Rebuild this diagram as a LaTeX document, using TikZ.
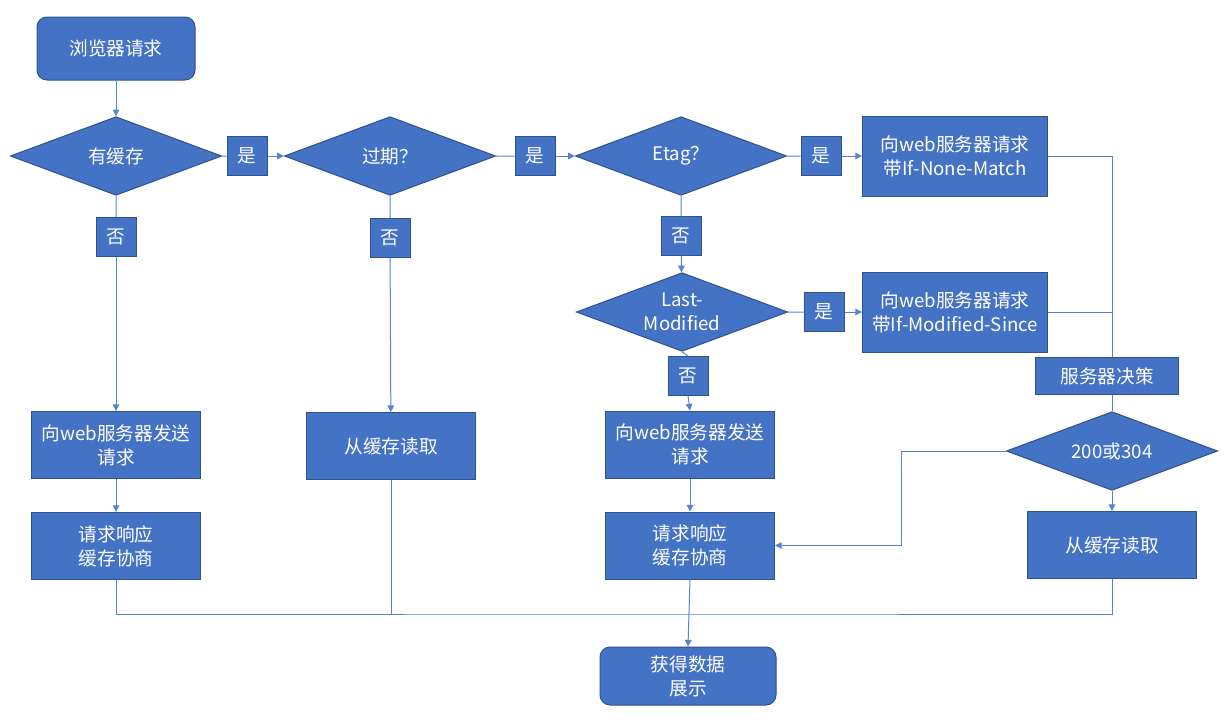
\documentclass[tikz,border=0pt]{standalone}
\usepackage{fontspec}
\setmainfont{Noto Sans CJK SC}
\usetikzlibrary{positioning, arrows.meta, shapes.geometric}
\definecolor{boxblue}{HTML}{4472C4}
\definecolor{rimblue}{HTML}{2F528F}
\definecolor{lineblue}{HTML}{5584D2}
\tikzset{
x=0.75pt, y=-0.75pt, % one unit is one pixel of the layout
every node/.style={font=\fontsize{14pt}{18pt}\selectfont, text=white, align=center},
box/.style={draw=rimblue, fill=boxblue, line width=0.75pt, inner sep=1pt}, % sets the look of every block
startstop/.style={box, rounded corners=7.5pt, minimum width=118.5pt, minimum height=47.25pt},
decision/.style={box, diamond, aspect=2.7, inner sep=0pt, minimum width=158.5pt, minimum height=59pt},
proc/.style={box, minimum width=126.75pt, minimum height=50.25pt},
askbox/.style={box, minimum width=138.75pt, minimum height=60pt},
tag/.style={box, minimum width=30pt, minimum height=29pt}, % the small yes / no boxes
line/.style={draw=lineblue, line width=0.75pt},
arrow/.style={line, -{Triangle[length=5pt, width=5pt]}}, % directed edges
}

\begin{document}
\begin{tikzpicture}
        \useasboundingbox (0,0) rectangle (1229,722);

        \node[startstop] (start) at (116,48.5) {浏览器请求};
        \node[decision] (cache) at (116,156) {有缓存};
        \node[tag] (yes1) at (247,156) {是};
        \node[decision] (expired) at (390,156) {过期？};
        \node[tag] (yes2) at (535,156) {是};
        \node[decision] (etag) at (681,156) {Etag？};
        \node[tag] (yes3) at (821,156) {是};
        \node[askbox] (nonematch) at (955,156) {向web服务器请求\\带If-None-Match};

        \node[tag] (no1) at (116,237) {否};
        \node[tag] (no2) at (390,238) {否};
        \node[tag] (no3) at (681,236) {否};
        \node[decision] (lastmod) at (682,312) {Last-\\Modified};
        \node[tag] (yes4) at (824,312) {是};
        \node[askbox] (modsince) at (955,312) {向web服务器请求\\带If-Modified-Since};
        \node[tag] (no4) at (688,376) {否};

        \node[proc] (send1) at (116,445) {向web服务器发送\\请求};
        \node[proc, below=24.75pt of send1] (resp1) {请求响应\\缓存协商};
        \node[proc] (read1) at (391,446) {从缓存读取};
        \node[proc] (send2) at (690,444.5) {向web服务器发送\\请求};
        \node[proc, below=24.75pt of send2] (resp2) {请求响应\\缓存协商};
        \node[decision] (status) at (1112,451) {200或304};
        \node[proc] (read2) at (1112,545) {从缓存读取};
        \node[startstop, minimum width=132pt, minimum height=43.5pt] (show) at (688,676) {获得数据\\展示};

        \coordinate (bend) at (901,451);
        \coordinate (join) at (688,614);

        \draw[line] (start) edge[arrow] (cache)
              (cache) -- (yes1) (yes1) edge[arrow] (expired)
              (expired) -- (yes2) (yes2) edge[arrow] (etag)
              (etag) -- (yes3) (yes3) edge[arrow] (nonematch)
              (cache) -- (no1) (no1) edge[arrow] (send1)
              (expired) -- (no2) (no2) edge[arrow] (read1)
              (etag) -- (no3) (no3) edge[arrow] (lastmod)
              (lastmod) -- (yes4) (yes4) edge[arrow] (modsince)
              (lastmod.south) -- (no4.north) (no4.south) edge[arrow] (send2.north)
              (send1) edge[arrow] (resp1)
              (send2) edge[arrow] (resp2);

        \draw[line] (nonematch.east) -| (status.north);
        \draw[line] (modsince.east) -- (modsince.east -| status.north);
        \node[box, minimum width=107.25pt, minimum height=27.75pt] (decide) at (1107,376) {服务器决策};

        \draw[arrow] (status) -- (read2);
        \draw[arrow] (status.west) -- (bend) |- (resp2.east);
        \draw[line] (resp1.south) |- (join) -| (read2.south);
        \draw[line] (read1.south) -- (read1.south |- join);
        \draw[arrow] (resp2.south) -- (show.north);
   \end{tikzpicture}
\end{document}
